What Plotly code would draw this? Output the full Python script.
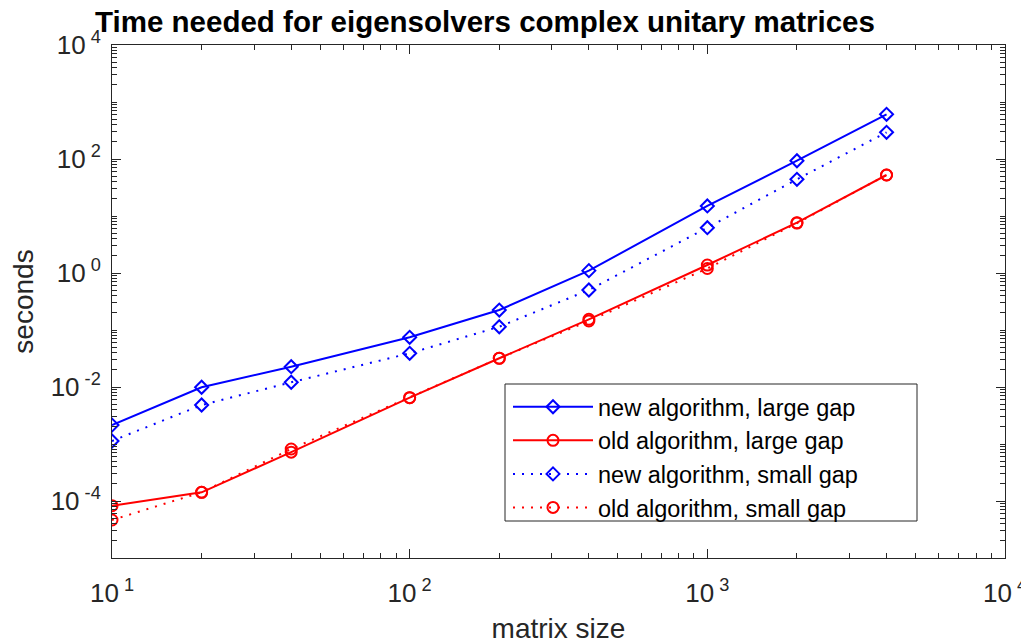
import plotly.graph_objects as go

sizes = [10, 20, 40, 100, 200, 400, 1000, 2000, 4000]
new_large = [2.15e-3, 9.9e-3, 0.0227, 0.0745, 0.224, 1.10, 15.0, 93.3, 608]
old_large = [8.27e-5, 1.42e-4, 7.2e-4, 6.49e-3, 0.0319, 0.154, 1.38, 7.63, 52.4]
new_small = [1.13e-3, 4.83e-3, 0.0121, 0.039, 0.114, 0.503, 6.24, 44, 294]
old_small = [4.64e-5, 1.42e-4, 8.17e-4, 6.5e-3, 0.032, 0.144, 1.2, 7.5, 52.4]

names = ["new algorithm, large gap", "old algorithm, large gap",
         "new algorithm, small gap", "old algorithm, small gap"]

x_exps = [1, 2, 3, 4]
y_exps = [-4, -2, 0, 2, 4]

FONT = "Liberation Sans, Arial, Helvetica, sans-serif"
AX = "#262626"
BLUE = "#0000FF"
RED = "#FF0000"
DOT = "2px,7px"

# page has an 8px body margin; figure is sized to fit the 1029x644 window
W, H = 1021, 636
PL, PR, PT, PB = 112, 1005, 45, 558  # plot area in page pixels


def px(xp):
    return (xp - PL) / (PR - PL)


def py(yp):
    return (PB - yp) / (PB - PT)


fig = go.Figure()
series = [
    (new_large, BLUE, "solid", "diamond-open", 10),
    (old_large, RED, "solid", "circle-open", 11),
    (new_small, BLUE, DOT, "diamond-open", 10),
    (old_small, RED, DOT, "circle-open", 11),
]
for (vals, col, dash, sym, ms), nm in zip(series, names):
    fig.add_trace(go.Scatter(
        x=sizes, y=vals, name=nm, mode="lines+markers",
        line=dict(color=col, width=2, dash=dash),
        marker=dict(symbol=sym, size=ms, color=col, line=dict(color=col, width=2)),
    ))

x_minor = [m * 10 ** e for e in range(1, 4) for m in range(2, 10)]
y_minor = [m * 10.0 ** e for e in range(-5, 4) for m in range(1, 10)
           if not (m == 1 and e in y_exps)]

common = dict(
    showline=True, linecolor=AX, linewidth=1, mirror="allticks",
    ticks="inside", ticklen=9, tickwidth=1, tickcolor=AX,
    showgrid=False, zeroline=False, automargin=False,
    tickfont=dict(family=FONT, size=26, color=AX),
)

fig.update_xaxes(
    type="log", range=[1, 4],
    tickmode="array", tickvals=[10 ** e for e in x_exps],
    ticktext=[f"10<sup> {e}</sup>" for e in x_exps],
    minor=dict(tickmode="array", tickvals=x_minor, ticks="inside", ticklen=5,
               tickcolor=AX, tickwidth=1, showgrid=False),
    ticklabelstandoff=12,
    title=dict(text="matrix size", font=dict(family=FONT, size=28, color=AX), standoff=11),
    **common,
)
fig.update_yaxes(
    type="log", range=[-5, 4],
    tickmode="array", tickvals=[10.0 ** e for e in y_exps],
    ticktext=[f"10<sup> {e}</sup>" for e in y_exps],
    minor=dict(tickmode="array", tickvals=y_minor, ticks="inside", ticklen=5,
               tickcolor=AX, tickwidth=1, showgrid=False),
    ticklabelstandoff=5,
    title=dict(text="seconds", font=dict(family=FONT, size=28, color=AX), standoff=25),
    **common,
)

# legend frame
fig.add_shape(type="rect", xref="paper", yref="paper",
              x0=px(505), x1=px(917), y0=py(521), y1=py(384),
              line=dict(color=AX, width=1), fillcolor="white", layer="above")

fig.update_layout(
    width=W, height=H,
    margin=dict(l=PL - 8, r=W + 8 - PR, t=PT - 8, b=H + 8 - PB),
    paper_bgcolor="white", plot_bgcolor="white",
    title=dict(text="<b>Time needed for eigensolvers complex unitary matrices</b>",
               x=477 / W, xanchor="center", y=1 - 14 / H, yanchor="middle",
               font=dict(family=FONT, size=29.5, color="black")),
    legend=dict(x=px(508), y=py(385), xanchor="left", yanchor="top",
                bgcolor="rgba(0,0,0,0)", borderwidth=0,
                font=dict(family=FONT, size=23.5, color="black"),
                itemwidth=80, tracegroupgap=0),
    showlegend=True,
)

fig.write_html("out.html")
